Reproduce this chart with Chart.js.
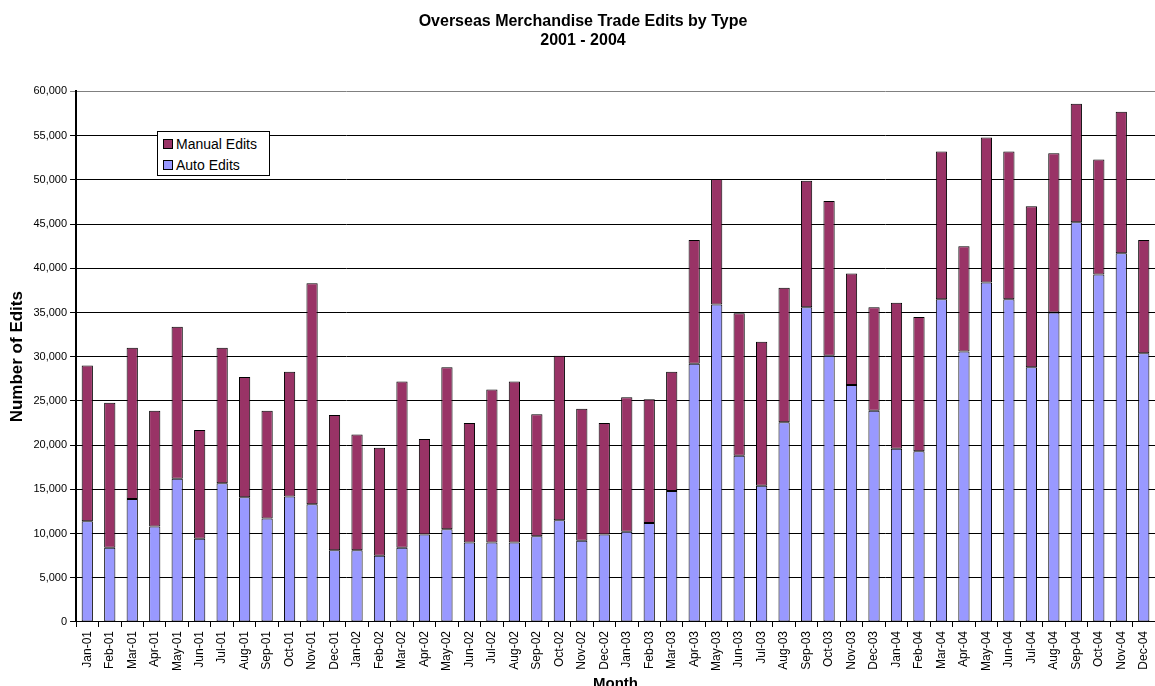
<!DOCTYPE html>
<html>
<head>
<meta charset="utf-8">
<script src="https://cdn.jsdelivr.net/npm/chart.js@4.4.0/dist/chart.umd.min.js"></script>
<style>
  body { margin: 0; background: #fff; }
  #wrap { position: relative; width: 1155px; height: 686px; overflow: hidden; }
  #legend {
    position: absolute; left: 157px; top: 131px; width: 113px; height: 45px;
    border: 1px solid #000; background: #fff;
    font-family: Arial, "Liberation Sans", sans-serif; font-size: 14px; color: #000;
    box-sizing: border-box; padding: 2px 0 0 5px; line-height: 21px;
  }
  #legend span.sw { display: inline-block; width: 8px; height: 8px; border: 1px solid #000; margin-right: 3px; vertical-align: 0px; }
</style>
</head>
<body>
<div id="wrap">
  <canvas id="chart"></canvas>
  <div id="legend">
    <div><span class="sw" style="background:#993366"></span>Manual Edits</div>
    <div><span class="sw" style="background:#9999FF"></span>Auto Edits</div>
  </div>
</div>
<script>
// Meses
const meses = [
  'Jan-01','Feb-01','Mar-01','Apr-01','May-01','Jun-01','Jul-01','Aug-01','Sep-01','Oct-01','Nov-01','Dec-01',
  'Jan-02','Feb-02','Mar-02','Apr-02','May-02','Jun-02','Jul-02','Aug-02','Sep-02','Oct-02','Nov-02','Dec-02',
  'Jan-03','Feb-03','Mar-03','Apr-03','May-03','Jun-03','Jul-03','Aug-03','Sep-03','Oct-03','Nov-03','Dec-03',
  'Jan-04','Feb-04','Mar-04','Apr-04','May-04','Jun-04','Jul-04','Aug-04','Sep-04','Oct-04','Nov-04','Dec-04'
];

// Ediciones automáticas (parte de abajo)
const autoEdits = [
  11400, 8400, 13900, 10800, 16200, 9400, 15700, 14100, 11700, 14200, 13300, 8100,
  8100, 7500, 8400, 9900, 10500, 9000, 9000, 9000, 9700, 11500, 9200, 9900,
  10200, 11200, 14800, 29200, 35900, 18800, 15400, 22600, 35600, 30100, 26800, 23900,
  19600, 19300, 36500, 30600, 38400, 36500, 28800, 35000, 45200, 39300, 41700, 30400
];

// Ediciones manuales (parte de arriba)
const manualEdits = [
  17600, 16400, 17100, 13100, 17200, 12300, 15300, 13600, 12200, 14100, 25000, 15300,
  13100, 12200, 18800, 10800, 18300, 13500, 17300, 18200, 13800, 18600, 14900, 12600,
  15200, 14000, 13500, 14000, 14200, 16100, 16300, 15200, 14300, 17500, 12600, 11700,
  16500, 15200, 16700, 11900, 16400, 16700, 18200, 18000, 13400, 13000, 16000, 12800
];

const tituloLineas = ['Overseas Merchandise Trade Edits by Type', '2001 - 2004'];

Chart.defaults.font.family = 'Arial, "Liberation Sans", sans-serif';
Chart.defaults.color = '#000';

const ctx = document.getElementById('chart').getContext('2d');
new Chart(ctx, {
  type: 'bar',
  data: {
    labels: meses,
    datasets: [
      {
        label: 'Auto Edits',
        data: autoEdits,
        backgroundColor: '#9999FF',
        borderColor: '#000',
        borderWidth: 1,
        borderSkipped: false,
        barPercentage: 0.5,
        categoryPercentage: 1.0
      },
      {
        label: 'Manual Edits',
        data: manualEdits,
        backgroundColor: '#993366',
        borderColor: '#000',
        borderWidth: 1,
        borderSkipped: false,
        barPercentage: 0.5,
        categoryPercentage: 1.0
      }
    ]
  },
  options: {
    responsive: true,
    maintainAspectRatio: false,
    animation: false,
    layout: { padding: { left: 3, right: -8, top: 0, bottom: -7 } },
    plugins: {
      legend: { display: false },
      tooltip: { enabled: false },
      title: {
        display: true,
        text: tituloLineas,
        font: { size: 16, weight: 'bold' },
        padding: { top: 12, bottom: 41 },
        lineHeight: 1.05
      }
    },
    scales: {
      x: {
        stacked: true,
        afterFit: (s) => { s.paddingRight = 0; }, // el área llega hasta el borde derecho
        grid: { display: true, drawOnChartArea: false, drawTicks: true, tickLength: 5, color: '#000', offset: true },
        border: { display: true, color: '#000', width: 1 },
        ticks: { minRotation: 90, maxRotation: 90, autoSkip: false, font: { size: 12 }, padding: 4 },
        title: { display: true, text: 'Month', font: { size: 15, weight: 'bold' }, padding: { top: 0, bottom: 0 } }
      },
      y: {
        stacked: true,
        min: 0,
        max: 60000,
        grid: {
          color: (c) => (c.tick && c.tick.value === 60000 ? '#808080' : '#000'),
          lineWidth: 1,
          tickLength: 6
        },
        border: { display: true, color: '#000', width: 2 },
        ticks: {
          stepSize: 5000,
          font: { size: 11 },
          padding: 3,
          callback: (v) => v.toLocaleString('en-US')
        },
        title: { display: true, text: 'Number of Edits', font: { size: 17, weight: 'bold' }, padding: { top: 4, bottom: 3 } }
      }
    }
  }
});
</script>
</body>
</html>
